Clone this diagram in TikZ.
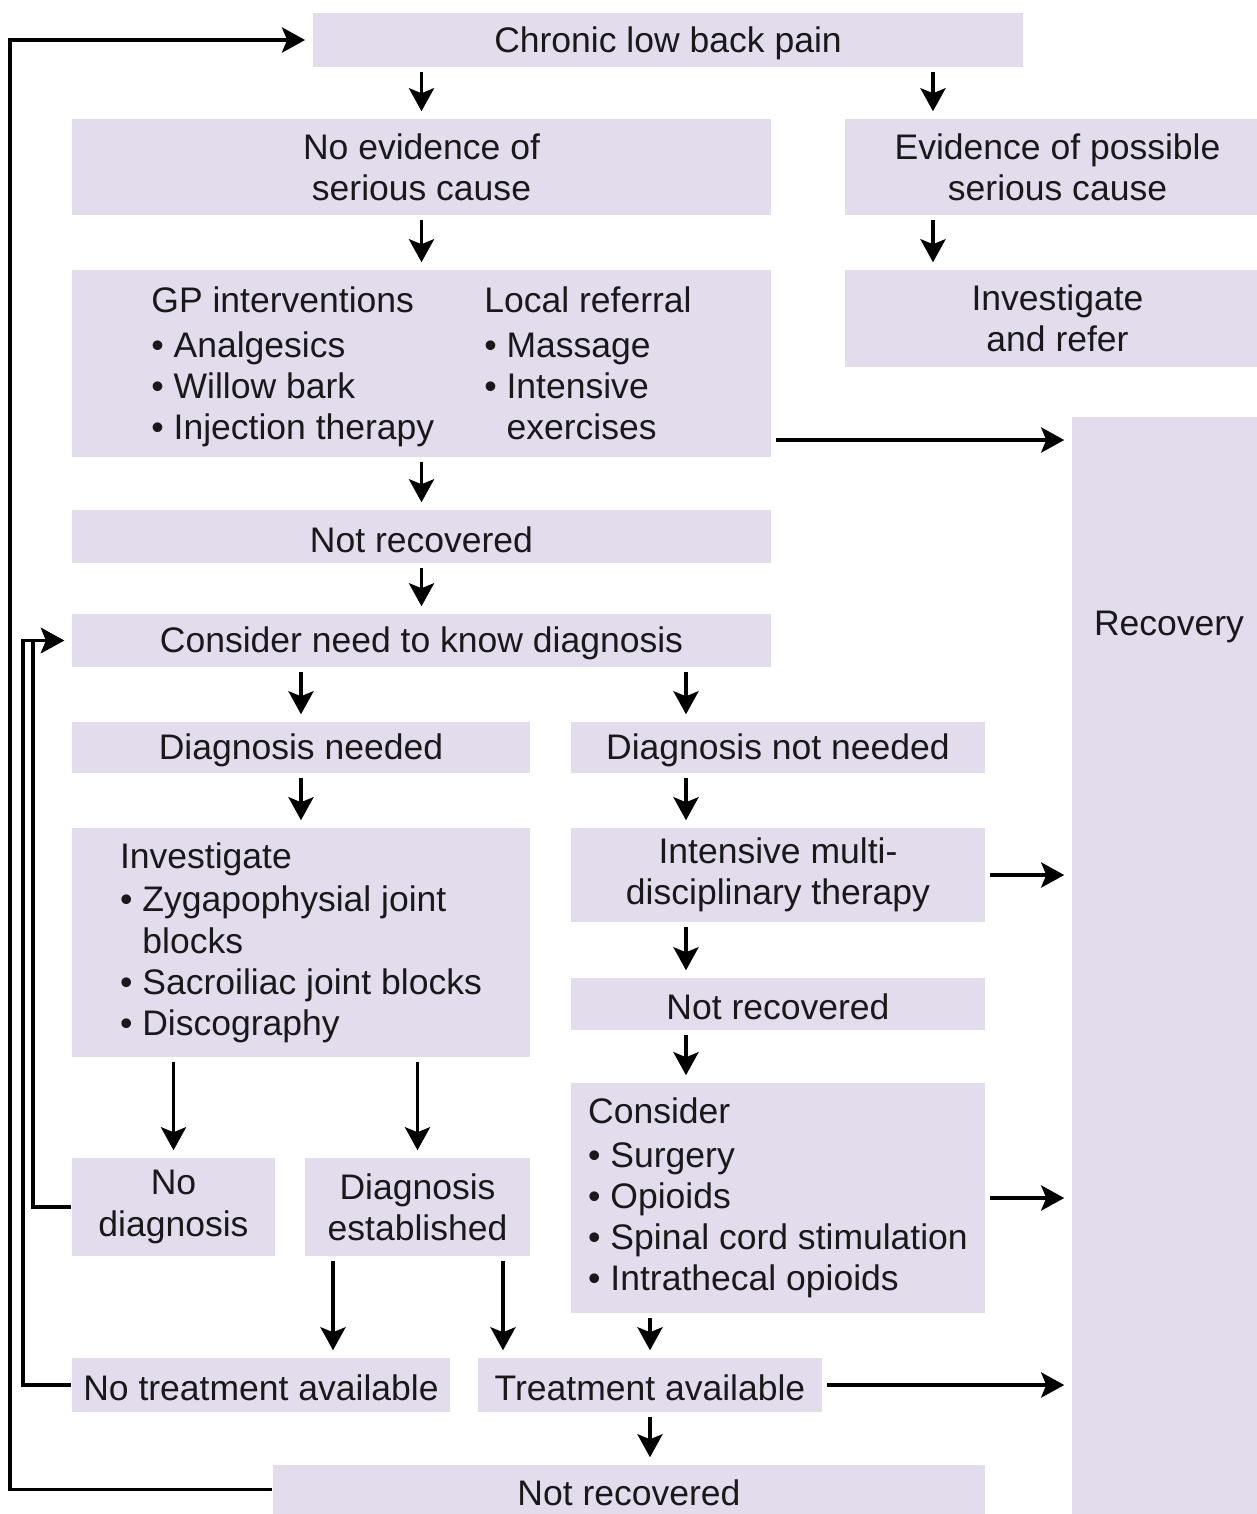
\documentclass[tikz,border=0pt]{standalone}
\usepackage{fontspec}
\setmainfont{Liberation Sans}
\usepackage{tikz}
\usetikzlibrary{arrows.meta}
\definecolor{boxfill}{RGB}{226,220,237}

\begin{document}
\begin{tikzpicture}[x=0.01cm,y=-0.01cm,
  every node/.style={font=\fontsize{10.1}{11.7}\selectfont, text=black!90},
  box/.style={fill=boxfill, inner sep=0pt, align=center,
    execute at begin node={\rule{0pt}{9pt}}},
  arr/.style={line width=1.1pt, -{Stealth[length=2.3mm,width=2.5mm,inset=0.5mm]},
    shorten <=0.04cm, shorten >=0.07cm},
  back/.style={line width=1.1pt, -{Stealth[length=2.3mm,width=2.5mm,inset=0.5mm]},
    shorten >=0.07cm}]
  \useasboundingbox (0,0) rectangle (1256,1514);
  % boxes
  \node[box, minimum width=7.10cm, minimum height=0.54cm] (chronic) at (668,40) {Chronic low back pain};
  \node[box, minimum width=6.99cm, minimum height=0.96cm] (noev) at (421.5,167) {No evidence of\\serious cause};
  \node[box, minimum width=4.25cm, minimum height=0.96cm] (evid) at (1057.5,167) {Evidence of possible\\serious cause};
  \node[box, minimum width=6.99cm, minimum height=1.87cm] (gp) at (421.5,363.5)
    {\begin{tabular}{@{}l@{\hspace{0.5cm}}l@{}}
      \rule{0pt}{10.5pt}GP interventions & Local referral\\[1.1pt]
      \textbullet\ Analgesics & \textbullet\ Massage\\
      \textbullet\ Willow bark & \textbullet\ Intensive\\
      \textbullet\ Injection therapy & \hphantom{\textbullet\ }exercises
    \end{tabular}};
  \node[box, minimum width=4.25cm, minimum height=0.97cm] (invref) at (1057.5,318.5) {Investigate\\and refer};
  \node[box, minimum width=1.94cm, minimum height=10.97cm] (rec) at (1169,965.5) {};
  \node (reclbl) at (1169,627) {Recovery};
  \node[box, minimum width=6.99cm, minimum height=0.53cm] (nr1) at (421.5,536.5) {Not recovered};
  \node[box, minimum width=6.99cm, minimum height=0.53cm] (cneed) at (421.5,640.5) {Consider need to know diagnosis};
  \node[box, minimum width=4.58cm, minimum height=0.51cm] (dneed) at (301,747.5) {Diagnosis needed};
  \node[box, minimum width=4.14cm, minimum height=0.51cm] (dnot) at (778,747.5) {Diagnosis not needed};
  \node[box, align=left, minimum width=4.58cm, minimum height=2.29cm] (inv) at (301,942.5)
    {Investigate\\[0.8pt]
     \textbullet\ Zygapophysial joint\\
     \hphantom{\textbullet\ }blocks\\
     \textbullet\ Sacroiliac joint blocks\\
     \textbullet\ Discography};
  \node[box, minimum width=4.14cm, minimum height=0.94cm] (imt) at (778,875) {Intensive multi-\\disciplinary therapy};
  \node[box, minimum width=4.14cm, minimum height=0.52cm] (nr2) at (778,1004) {Not recovered};
  \node[box, align=left, minimum width=4.14cm, minimum height=2.30cm] (cons) at (778,1198)
    {Consider\\[0.6pt]
     \textbullet\ Surgery\\
     \textbullet\ Opioids\\
     \textbullet\ Spinal cord stimulation\\
     \textbullet\ Intrathecal opioids};
  \node[box, minimum width=2.03cm, minimum height=0.98cm] (nodiag) at (173.5,1207) {No\\diagnosis};
  \node[box, minimum width=2.25cm, minimum height=0.98cm] (dest) at (417.5,1207) {Diagnosis\\established};
  \node[box, minimum width=3.78cm, minimum height=0.54cm] (notreat) at (261,1385) {No treatment available};
  \node[box, minimum width=3.44cm, minimum height=0.54cm] (treat) at (650,1385) {Treatment available};
  \node[box, minimum width=7.12cm, minimum height=0.49cm] (nr3) at (629,1489.5) {Not recovered};

  % columns and rows used by the connectors
  \coordinate (evcol) at (933,0);
  \coordinate (dncol) at (686,0);
  \coordinate (tlcol) at (333,0);
  \coordinate (trcol) at (503,0);
  \coordinate (gprow) at (0,440);
  \coordinate (fbO) at (10,0);
  \coordinate (fbA) at (23,0);
  \coordinate (fbB) at (33,0);

  \draw[arr] (chronic.south -| noev) -- (noev.north);
  \draw[arr] (chronic.south -| evcol) -- (evid.north -| evcol);
  \draw[arr] (noev.south) -- (gp.north);
  \draw[arr] (evid.south -| evcol) -- (invref.north -| evcol);
  \draw[arr] (gp.east |- gprow) -- (rec.west |- gprow);
  \draw[arr] (gp.south) -- (nr1.north);
  \draw[arr] (nr1.south) -- (cneed.north);
  \draw[arr] (cneed.south -| dneed) -- (dneed.north);
  \draw[arr] (cneed.south -| dncol) -- (dnot.north -| dncol);
  \draw[arr] (dneed.south) -- (inv.north);
  \draw[arr] (dnot.south -| dncol) -- (imt.north -| dncol);
  \draw[arr] (imt.east) -- (rec.west |- imt);
  \draw[arr] (imt.south -| dncol) -- (nr2.north -| dncol);
  \draw[arr] (nr2.south -| dncol) -- (cons.north -| dncol);
  \draw[arr] (cons.east) -- (rec.west |- cons);
  \draw[arr] (inv.south -| nodiag) -- (nodiag.north);
  \draw[arr] (inv.south -| dest) -- (dest.north);
  \draw[arr] (dest.south -| tlcol) -- (notreat.north -| tlcol);
  \draw[arr] (dest.south -| trcol) -- (treat.north -| trcol);
  \draw[arr] (cons.south -| treat) -- (treat.north);
  \draw[arr] (treat.east) -- (rec.west |- treat);
  \draw[arr] (treat.south) -- (nr3.north -| treat);

  % loops back
  \draw[back] (nodiag.west) -| (fbB |- cneed) -- (cneed.west);
  \draw[back] (notreat.west) -| (fbA |- cneed) -- (cneed.west);
  \draw[back] (nr3.west) -| (fbO |- chronic) -- (chronic.west);
\end{tikzpicture}
\end{document}
